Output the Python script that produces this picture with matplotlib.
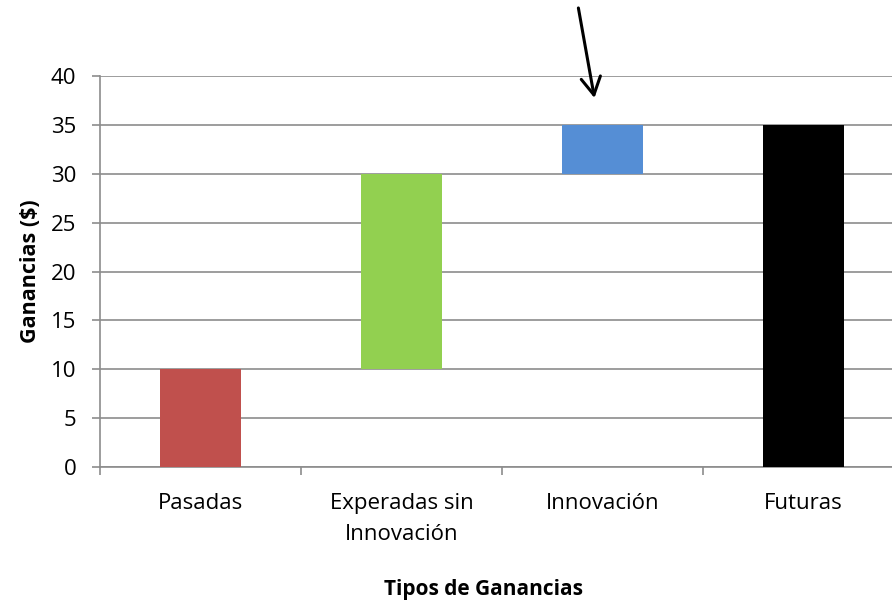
import matplotlib.pyplot as plt
import numpy as np

# waterfall values
categories = ["Pasadas", "Experadas sin\nInnovación", "Innovación", "Futuras"]
bottoms = [0, 10, 30, 0]
heights = [10, 20, 5, 35]
colors = ["#C0504D", "#92D050", "#558ED5", "#000000"]

plt.rcParams['font.family'] = ['Open Sans', 'DejaVu Sans']

fig = plt.figure(figsize=(8.92, 6.01), dpi=100)
# plot area runs past the right edge of the picture, as in the original
ax = fig.add_axes([100 / 892, 134 / 601, 804 / 892, 391 / 601])

x = np.arange(len(categories))
ax.bar(x, heights, bottom=bottoms, width=0.40, color=colors, zorder=3)

ax.set_xlim(-0.5, len(categories) - 0.5)
ax.set_ylim(0, 40)
ax.set_yticks(np.arange(0, 41, 5))
ax.yaxis.grid(True, color="#8c8c8c", linewidth=1.2, zorder=0)

# category boundaries get tick marks, centres get the labels
ax.set_xticks(np.arange(-0.5, len(categories), 1.0))
ax.set_xticklabels([])
ax.set_xticks(x, minor=True)
ax.set_xticklabels(categories, minor=True, fontsize=16, linespacing=1.6)
ax.tick_params(axis="x", which="minor", length=0, pad=19)
ax.tick_params(axis="x", which="major", length=6, color="#8c8c8c", width=1.2)
ax.tick_params(axis="y", length=6, color="#8c8c8c", width=1.2, labelsize=16, pad=11)

for s in ["top", "right"]:
    ax.spines[s].set_visible(False)
for s in ["left", "bottom"]:
    ax.spines[s].set_color("#8c8c8c")
    ax.spines[s].set_linewidth(1.2)

ax.set_ylabel("Ganancias ($)", fontsize=15.5, fontweight="bold", labelpad=7)
fig.text(484 / 892, 1 - 590 / 601, "Tipos de Ganancias", fontsize=15,
         fontweight="bold", ha="center", va="center")

# arrow pointing at the innovation step
ax.annotate("", xy=(1.96, 37.75), xytext=(1.88, 46.96), annotation_clip=False,
            arrowprops=dict(arrowstyle="->,head_length=0.45,head_width=0.25",
                            color="black", lw=2.2, mutation_scale=28,
                            shrinkA=0, shrinkB=0))

fig.savefig("out.png", dpi=100)
